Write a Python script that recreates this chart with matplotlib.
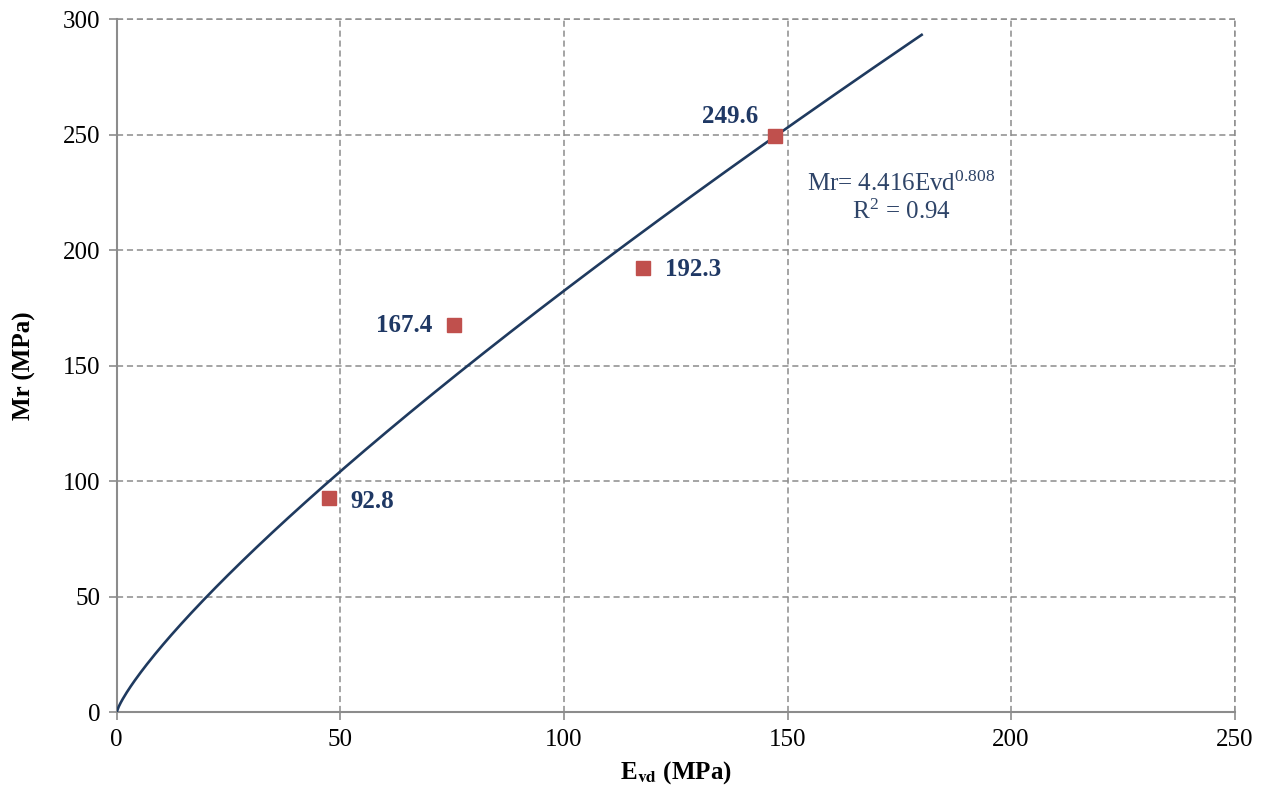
import numpy as np
import matplotlib.pyplot as plt

# measured points
evd = [47.5, 75.5, 117.7, 147.2]
mr = [92.8, 167.4, 192.3, 249.6]
point_labels = ['92.8', '167.4', '192.3', '249.6']

# power fit Mr = a * Evd^b
fit_a = 4.416
fit_b = 0.808
fit_r2 = 0.94
fit_xmax = 180

plt.rcParams['font.family'] = ['Liberation Serif', 'DejaVu Serif']
plt.rcParams['mathtext.fontset'] = 'stix'

navy = '#1F3864'
grid_col = '#8C8C8C'

fig = plt.figure(figsize=(12.63, 7.92), dpi=100)
ax = fig.add_axes([0.0924, 0.101, 0.8852, 0.8746])

x_fit = np.linspace(0, fit_xmax, 400)
ax.plot(x_fit, fit_a * x_fit ** fit_b, color='#1F3A5F', lw=1.9, zorder=3)
ax.plot(evd, mr, 's', color='#C0504D', ms=10, mec='#C0504D', zorder=4)

offsets = [(15, -3, 'left'), (-16, 0, 'right'), (16, -1, 'left'), (-12, 14, 'right')]
for x, y, t, (dx, dy, ha) in zip(evd, mr, point_labels, offsets):
    ax.annotate(t, (x, y), xytext=(dx, dy), textcoords='offset points',
                ha=ha, va='center', fontsize=18, fontweight='bold', color=navy)

ax.text(175.5, 229, 'Mr= %.3fEvd$^{\\mathregular{%.3f}}$' % (fit_a, fit_b),
        ha='center', va='center', fontsize=18, color='#2E4468')
ax.text(175.5, 216.5, 'R$^{\\mathregular{2}}$ = %.2f' % fit_r2,
        ha='center', va='center', fontsize=18, color='#2E4468')

ax.set_xlim(0, 250)
ax.set_ylim(0, 300)
ax.set_xticks(range(0, 251, 50))
ax.set_yticks(range(0, 301, 50))
ax.grid(True, ls=(0, (4, 2.5)), color=grid_col, lw=1.1)
ax.set_axisbelow(True)

for s in ['top', 'right']:
    ax.spines[s].set_visible(False)
for s in ['left', 'bottom']:
    ax.spines[s].set_color(grid_col)
    ax.spines[s].set_linewidth(1.5)
# dashed frame on the open sides
ax.axhline(300, ls=(0, (4, 2.5)), color=grid_col, lw=1.1, clip_on=False)
ax.axvline(250, ls=(0, (4, 2.5)), color=grid_col, lw=1.1, clip_on=False)

ax.tick_params(direction='out', length=6, width=1.2, color=grid_col,
               labelsize=18, labelcolor='black', pad=6)

ax.set_xlabel('E$_{\\mathbf{vd}}$ (MPa)', fontsize=18, fontweight='bold', labelpad=6)
ax.set_ylabel('Mr (MPa)', fontsize=18, fontweight='bold', labelpad=19)

fig.savefig('out.png', dpi=100)
